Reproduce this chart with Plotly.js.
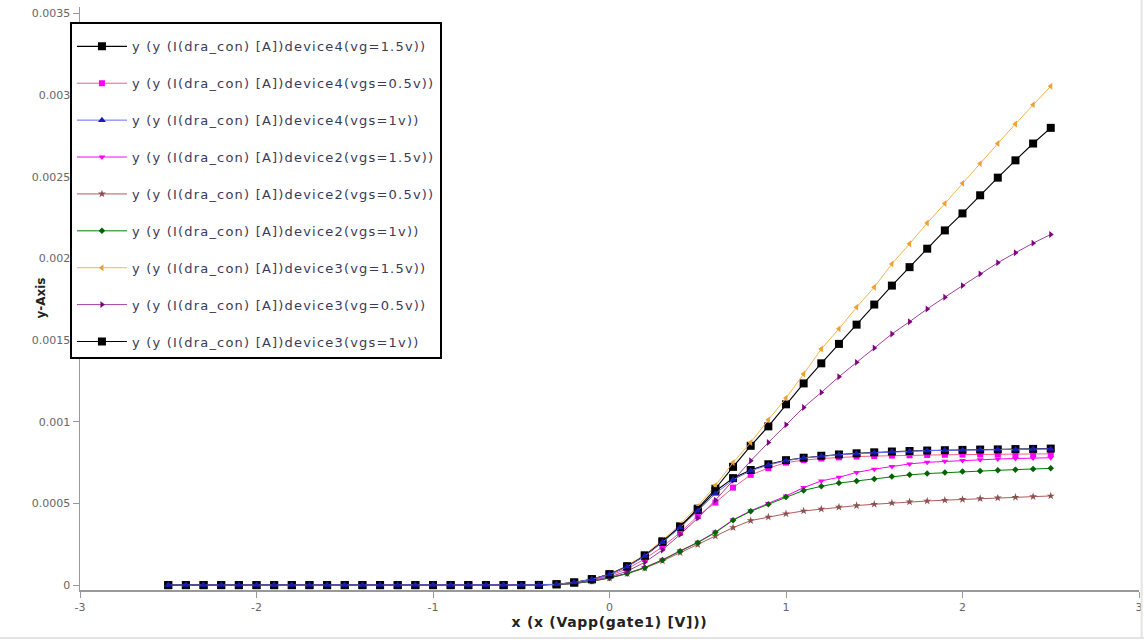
<!DOCTYPE html>
<html>
<head>
<meta charset="utf-8">
<script src="https://cdn.plot.ly/plotly-3.0.1.min.js"></script>
<style>
html,body{margin:0;padding:0;background:#fff;}
#chart{width:1144px;height:640px;}
.legendtext{letter-spacing:1.2px;}
.xtitle{letter-spacing:0.7px;}
</style>
</head>
<body>
<div id="chart"></div>
<script>
var vgate = [-2.5,-2.4,-2.3,-2.2,-2.1,-2.0,-1.9,-1.8,-1.7,-1.6,-1.5,-1.4,-1.3,-1.2,-1.1,-1.0,-0.9,-0.8,-0.7,-0.6,-0.5,-0.4,-0.3,-0.2,-0.1,0.0,0.1,0.2,0.3,0.4,0.5,0.6,0.7,0.8,0.9,1.0,1.1,1.2,1.3,1.4,1.5,1.6,1.7,1.8,1.9,2.0,2.1,2.2,2.3,2.4,2.5];

var seriesNames = [
  "y (y (I(dra_con) [A])device4(vg=1.5v))",
  "y (y (I(dra_con) [A])device4(vgs=0.5v))",
  "y (y (I(dra_con) [A])device4(vgs=1v))",
  "y (y (I(dra_con) [A])device2(vgs=1.5v))",
  "y (y (I(dra_con) [A])device2(vgs=0.5v))",
  "y (y (I(dra_con) [A])device2(vgs=1v))",
  "y (y (I(dra_con) [A])device3(vg=1.5v))",
  "y (y (I(dra_con) [A])device3(vg=0.5v))",
  "y (y (I(dra_con) [A])device3(vgs=1v))"
];

var dev4_vg15 = [0,0,0,0,0,0,0,0,0,0,0,0,0,0,0,0,0,0,0,0,0,
  1e-6,5e-6,16e-6,36e-6,66e-6,115e-6,182e-6,268e-6,360e-6,468e-6,590e-6,724e-6,853e-6,972e-6,1107e-6,1235e-6,1358e-6,1477e-6,1595e-6,1718e-6,1834e-6,1947e-6,2060e-6,2172e-6,2276e-6,2387e-6,2495e-6,2601e-6,2704e-6,2800e-6];
var dev4_vgs05 = [0,0,0,0,0,0,0,0,0,0,0,0,0,0,0,0,0,0,0,0,0,
  1e-6,4e-6,14e-6,32e-6,58e-6,100e-6,160e-6,235e-6,321e-6,423e-6,505e-6,597e-6,675e-6,716e-6,750e-6,765e-6,775e-6,782e-6,787e-6,790e-6,793e-6,795e-6,797e-6,798e-6,799e-6,800e-6,801e-6,802e-6,803e-6,804e-6];
var dev4_vgs1 = [0,0,0,0,0,0,0,0,0,0,0,0,0,0,0,0,0,0,0,0,0,
  1e-6,5e-6,16e-6,36e-6,65e-6,112e-6,178e-6,262e-6,352e-6,455e-6,560e-6,645e-6,700e-6,735e-6,762e-6,778e-6,790e-6,798e-6,805e-6,810e-6,816e-6,820e-6,823e-6,825e-6,827e-6,829e-6,830e-6,831e-6,833e-6,834e-6];
var dev2_vgs15 = [0,0,0,0,0,0,0,0,0,0,0,0,0,0,0,0,0,0,0,0,0,
  1e-6,3e-6,10e-6,24e-6,45e-6,72e-6,108e-6,155e-6,210e-6,262e-6,325e-6,400e-6,455e-6,500e-6,546e-6,597e-6,638e-6,660e-6,690e-6,710e-6,727e-6,742e-6,752e-6,758e-6,763e-6,768e-6,772e-6,775e-6,778e-6,780e-6];
var dev2_vgs05 = [0,0,0,0,0,0,0,0,0,0,0,0,0,0,0,0,0,0,0,0,0,
  1e-6,3e-6,10e-6,23e-6,43e-6,70e-6,104e-6,148e-6,198e-6,248e-6,300e-6,352e-6,395e-6,417e-6,437e-6,454e-6,466e-6,478e-6,487e-6,495e-6,503e-6,510e-6,515e-6,520e-6,525e-6,530e-6,534e-6,538e-6,542e-6,546e-6];
var dev2_vgs1 = [0,0,0,0,0,0,0,0,0,0,0,0,0,0,0,0,0,0,0,0,0,
  1e-6,3e-6,10e-6,24e-6,44e-6,71e-6,107e-6,153e-6,208e-6,260e-6,322e-6,397e-6,452e-6,495e-6,540e-6,580e-6,605e-6,625e-6,638e-6,650e-6,665e-6,675e-6,683e-6,689e-6,695e-6,699e-6,703e-6,707e-6,711e-6,715e-6];
var dev3_vg15 = [0,0,0,0,0,0,0,0,0,0,0,0,0,0,0,0,0,0,0,0,0,
  1e-6,5e-6,16e-6,37e-6,68e-6,118e-6,187e-6,275e-6,372e-6,482e-6,610e-6,750e-6,873e-6,1012e-6,1145e-6,1293e-6,1446e-6,1569e-6,1701e-6,1824e-6,1967e-6,2090e-6,2217e-6,2336e-6,2460e-6,2581e-6,2704e-6,2824e-6,2942e-6,3055e-6];
var dev3_vg05 = [0,0,0,0,0,0,0,0,0,0,0,0,0,0,0,0,0,0,0,0,0,
  1e-6,4e-6,12e-6,28e-6,50e-6,85e-6,140e-6,215e-6,310e-6,410e-6,520e-6,640e-6,761e-6,873e-6,982e-6,1088e-6,1180e-6,1276e-6,1364e-6,1452e-6,1538e-6,1613e-6,1691e-6,1763e-6,1834e-6,1906e-6,1974e-6,2035e-6,2094e-6,2147e-6];
var dev3_vgs1 = [0,0,0,0,0,0,0,0,0,0,0,0,0,0,0,0,0,0,0,0,0,
  1e-6,5e-6,16e-6,36e-6,66e-6,114e-6,180e-6,265e-6,356e-6,460e-6,575e-6,655e-6,705e-6,740e-6,765e-6,780e-6,792e-6,800e-6,807e-6,813e-6,818e-6,821e-6,824e-6,826e-6,828e-6,830e-6,831e-6,833e-6,834e-6,836e-6];

var yTickVals = [0,0.0005,0.001,0.0015,0.002,0.0025,0.003,0.0035];
var yTickText = ["0","0.0005","0.001","0.0015","0.002","0.0025","0.003","0.0035"];
var xTickVals = [-3,-2,-1,0,1,2,3];
var xTickText = ["-3","-2","-1","0","1","2","3"];

var allY = [dev4_vg15, dev4_vgs05, dev4_vgs1, dev2_vgs15, dev2_vgs05, dev2_vgs1, dev3_vg15, dev3_vg05, dev3_vgs1];
var styles = [
  {lc:"#000000", mc:"#000000", sym:"square", ms:8, lw:1.1},
  {lc:"#ff5a8c", mc:"#ff00ff", sym:"square", ms:6, lw:1},
  {lc:"#6a6aff", mc:"#1a1ab4", sym:"triangle-up", ms:7, lw:1},
  {lc:"#ff00ff", mc:"#ff00ff", sym:"triangle-down", ms:6, lw:1},
  {lc:"#b05a5a", mc:"#8c5050", sym:"star", ms:6, lw:1},
  {lc:"#008000", mc:"#006400", sym:"diamond", ms:5, lw:1},
  {lc:"#f5b450", mc:"#f0a030", sym:"triangle-left", ms:6, lw:1},
  {lc:"#a040a0", mc:"#800080", sym:"triangle-right", ms:6, lw:1},
  {lc:"#000000", mc:"#000000", sym:"square", ms:8, lw:1.1}
];
// drawing order (legend order is kept with legendrank)
var drawOrder = [0, 1, 3, 4, 5, 6, 7, 8, 2];

var traces = [];
drawOrder.forEach(function (i) {
  traces.push({
    x: vgate, y: allY[i], name: seriesNames[i], type: "scatter", mode: "lines+markers",
    legendgroup: "g" + i, legendrank: (i + 1) * 10,
    line: {color: styles[i].lc, width: styles[i].lw},
    marker: {color: styles[i].mc, symbol: styles[i].sym, size: styles[i].ms}
  });
});

var layout = {
  width: 1144, height: 640,
  paper_bgcolor: "#ffffff", plot_bgcolor: "#ffffff",
  margin: {l: 80, r: 5, t: 7, b: 50},
  font: {family: "DejaVu Sans, sans-serif", size: 11, color: "#555555"},
  showlegend: true,
  legend: {
    x: -0.0095, xanchor: "left", y: 0.975, yanchor: "top",
    bgcolor: "#ffffff", bordercolor: "#000000", borderwidth: 2,
    font: {family: "DejaVu Sans, sans-serif", size: 13, color: "#3a3a5a"},
    title: {text: " ", font: {size: 6}},
    traceorder: "grouped", tracegroupgap: 17, itemwidth: 50
  },
  xaxis: {
    range: [-3, 3], tickvals: xTickVals, ticktext: xTickText,
    showgrid: false, zeroline: false, showline: true, linecolor: "#999999", linewidth: 1.5,
    ticks: "outside", ticklen: 6, tickcolor: "#999999",
    tickfont: {size: 11, color: "#666666"},
    title: {text: "x (x (Vapp(gate1) [V]))", font: {family: "DejaVu Sans, sans-serif", size: 14, color: "#222222", weight: "bold"}, standoff: 0}
  },
  yaxis: {
    range: [-0.00003, 0.00354], tickvals: yTickVals, ticktext: yTickText,
    showgrid: false, zeroline: false, showline: true, linecolor: "#999999", linewidth: 1.5,
    ticks: "outside", ticklen: 6, tickcolor: "#999999",
    tickfont: {size: 11, color: "#666666"}
  },
  annotations: [{
    text: "<b>y-Axis</b>", xref: "paper", yref: "paper", x: -0.0377, y: 0.5,
    xanchor: "center", yanchor: "middle", textangle: -90, showarrow: false,
    font: {family: "DejaVu Sans, sans-serif", size: 12, color: "#222222"}
  }],
  shapes: [
    {type: "line", xref: "paper", yref: "paper", x0: -0.08, x1: 1.006, y0: -0.0823, y1: -0.0823, line: {color: "#e4e4e4", width: 2}},
    {type: "line", xref: "paper", yref: "paper", x0: 1.0025, x1: 1.0025, y0: -0.0823, y1: 1.012, line: {color: "#e4e4e4", width: 2}}
  ]
};

Plotly.newPlot("chart", traces, layout, {staticPlot: true, displayModeBar: false});
</script>
</body>
</html>
